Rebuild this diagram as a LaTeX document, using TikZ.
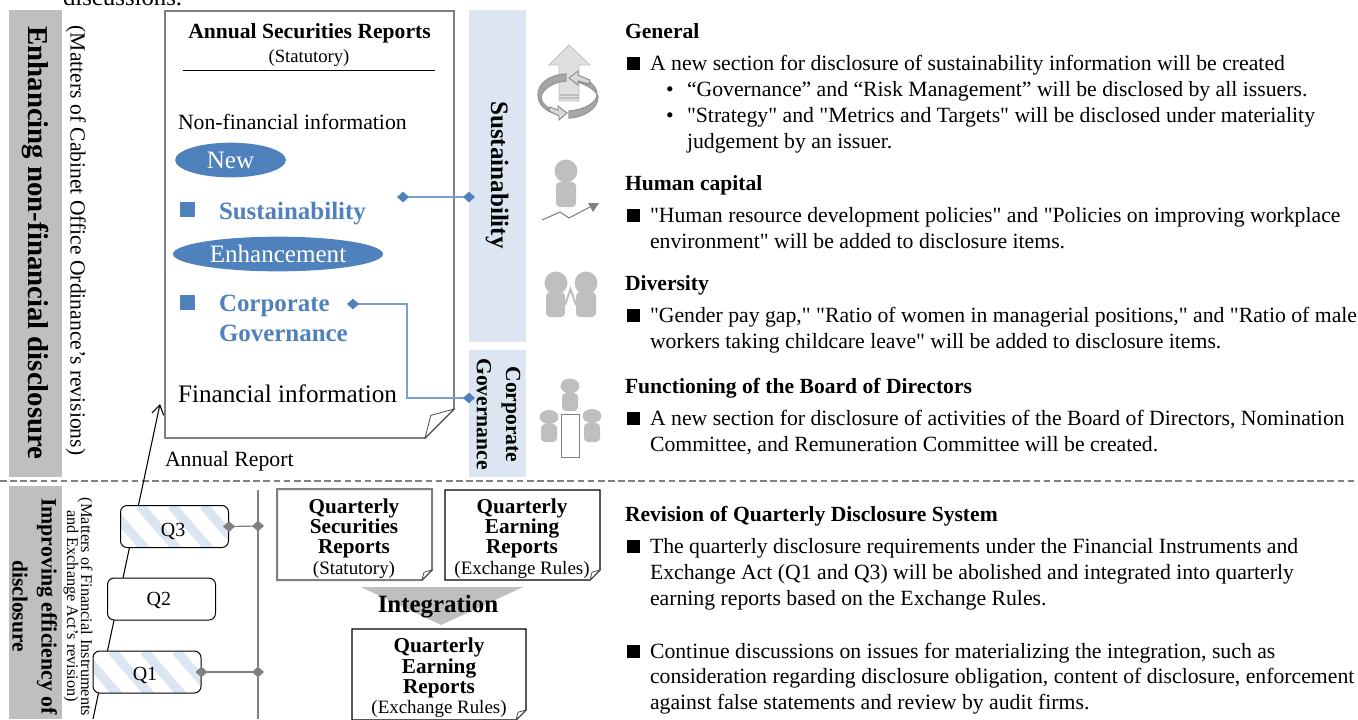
\documentclass[tikz,border=0pt]{standalone}
\usepackage{fontspec}
\setmainfont{Liberation Serif}[Ligatures=TeXOff]
\usetikzlibrary{arrows.meta,calc,shapes.geometric}
\definecolor{bandgray}{HTML}{BFBFBF}
\definecolor{lightblue}{HTML}{DCE6F2}
\definecolor{midblue}{HTML}{4F81BD}
\definecolor{icongray}{HTML}{BFBFBF}
\definecolor{papergray}{HTML}{7F7F7F}
\newcommand\fsz[1]{\fontsize{#1}{#1}\selectfont}
\newcommand\qlab[3]{\makebox[0pt]{\hspace*{#2}\raisebox{#3}[0pt][0pt]{#1}}}
\tikzset{
  x=0.75pt,y=-0.75pt,
  txt/.style={anchor=base west,inner sep=0pt,outer sep=0pt,font=\fsz{16.3}},
  head/.style={txt,font=\fsz{16.2}\bfseries},
  sq/.style={fill=black,inner sep=0pt,minimum width=9.6pt,minimum height=9.2pt,anchor=north west},
  sqblue/.style={fill=midblue,inner sep=0pt,minimum width=11.2pt,minimum height=11.2pt,anchor=north west},
  blob/.style={ellipse,fill=midblue,inner sep=0pt,text=white},
  bluetxt/.style={txt,text=midblue,font=\fsz{18.7}\bfseries},
  vert/.style={rotate=-90,inner sep=0pt,outer sep=0pt,anchor=center},
  qbox/.style={draw=black,line width=0.75pt,rounded corners=5pt,fill=white,minimum width=81pt,minimum height=31.5pt,inner sep=0pt,font=\fsz{15}},
  stripes/.style={path picture={
     \foreach \i in {-45,-13,...,115}
       \draw[lightblue,line width=7pt] ($(path picture bounding box.north west)+(\i,0)$) -- ++(40,46);
  }},
  papertxt/.style={align=center,inner sep=0pt,outer sep=0pt,font=\fsz{15.9}\bfseries},
  bluelink/.style={draw=midblue!75!white,line width=0.9pt,shorten <=-4.5pt,shorten >=-4.5pt,{Diamond[length=9pt,width=8pt,fill=midblue,color=midblue]}-{Diamond[length=9pt,width=8pt,fill=midblue,color=midblue]}},
  graylink/.style={draw=gray,line width=0.9pt,shorten <=-4.5pt,shorten >=-4.5pt,{Diamond[length=9pt,width=8pt,fill=gray]}-{Diamond[length=9pt,width=8pt,fill=gray]}},
  ico/.style={fill=icongray,draw=none},
}
\newcommand\paper[7]{% x1 y1 x2 y2 fold color width
  \draw[draw=#6,line width=#7,fill=white,line join=miter] (#1,#2) -- (#3,#2) -- (#3,{#4-#5}) -- ({#3-#5},#4) -- (#1,#4) -- cycle;
  \draw[draw=black!70,line width=0.6pt,fill=white] (#3,{#4-#5}) -- ({#3-0.8*#5},{#4-0.78*#5}) -- ({#3-#5},#4) -- cycle;
}
\begin{document}
\begin{tikzpicture}
\useasboundingbox (0,0) rectangle (1358,719);
\clip (0,0) rectangle (1358,719);
\node[txt,font=\fsz{18.6}] (disc) at (63,5) {discussions.};
% bands
\fill[bandgray] (9,10) rectangle (62,477);
\fill[bandgray] (9,486) rectangle (62,719);
\fill[lightblue] (469,10) rectangle (526,342);
\fill[lightblue] (469,350) rectangle (526,477);
\node[vert,font=\fsz{21.6}\bfseries] (enh) at (35,243) {Enhancing non-financial disclosure};
\node[vert,font=\fsz{16.2}] (mat1) at (76,240.5) {(Matters of Cabinet Office Ordinance’s revisions)};
\node[vert,font=\fsz{18.8}\bfseries] (sus) at (497,175) {Sustainability};
\node[vert,font=\fsz{16.2}\bfseries] (cg1) at (511,414.5) {Corporate};
\node[vert,font=\fsz{16.2}\bfseries] (cg2) at (484,414) {Governance};
\node[vert,font=\fsz{16.4}\bfseries] (imp1) at (47,606.5) {Improving efficiency of};
\node[vert,font=\fsz{16.2}\bfseries] (imp2) at (20,606) {disclosure};
\node[vert,font=\fsz{12.2}] (fin1) at (85,607) {(Matters of Financial Instruments};
\node[vert,font=\fsz{12.2}] (fin2) at (71,606) {and Exchange Act’s revision)};
% dashed separator
\coordinate (dl) at (0,481); \coordinate (dr) at (1358,481);
\draw[gray,line width=0.8pt,dash pattern=on 5pt off 2.6pt] (dl) -- (dr);
% annual report paper
\paper{165}{11}{454}{438}{29}{papergray}{1.4pt}
\node[inner sep=0pt,font=\fsz{16.2}\bfseries] (asr) at (309.5,33.5) {Annual Securities Reports};
\node[inner sep=0pt,font=\fsz{14}] (stat) at (309,58) {(Statutory)};
\coordinate (rl) at (183,70); \coordinate (rr) at (435,70);
\draw[black,line width=0.75pt] (rl) -- (rr);
\node[txt,font=\fsz{16.3}] (nfi) at (178,129) {Non-financial information};
\node[blob,minimum width=83pt,minimum height=26pt,font=\fsz{18.8}] (new) at (230.5,160) {New};
\node[sqblue] (s1) at (180,202) {};
\node[bluetxt] (sust) at (219,219) {Sustainability};
\node[blob,minimum width=157.5pt,minimum height=26pt,font=\fsz{18.8}] (enhn) at (278,254) {Enhancement};
\node[sqblue] (s2) at (180,295) {};
\node[bluetxt] (corp) at (219,311) {Corporate};
\node[bluetxt] (gov) at (219,341) {Governance};
\node[txt,font=\fsz{18.9}] (fini) at (178,402) {Financial information};
\node[txt,font=\fsz{16.3}] (ar) at (165,466) {Annual Report};
% links
\coordinate (a1) at (403,197); \coordinate (a2) at (469,197);
\coordinate (b1) at (353,304); \coordinate (b2) at (469,398); \coordinate (bm) at (407,304);
\draw[bluelink] (a1) -- (a2);
\draw[bluelink] (b1) -- (bm) |- (b2);
% timeline
\coordinate (t0) at (93,719); \coordinate (t1) at (160,404);
\draw[black,line width=0.8pt,-{Straight Barb[length=7pt,width=9pt]}] (t0) -- (t1);
\coordinate (vt) at (258,490); \coordinate (vb) at (258,719);
\draw[gray,line width=0.9pt] (vt) -- (vb);
\node[qbox,stripes] (q3) at (174.5,526.5) {\qlab{Q3}{-2pt}{-7.5pt}};
\node[qbox] (q2) at (161.5,599) {\qlab{Q2}{-4pt}{-4.9pt}};
\node[qbox,stripes] (q1) at (147,672) {\qlab{Q1}{-3pt}{-6.4pt}};
\coordinate (j3) at (258,526); \coordinate (j1) at (258,672);
\draw[graylink] (q3.east) -- (j3);
\draw[graylink] (q1.east) -- (j1);
% quarterly papers
\paper{277}{489}{432}{580}{10}{papergray}{1.5pt}
\node[papertxt] (qsr) at (354,538.3) {Quarterly\\[-.6pt]Securities\\[-.6pt]Reports\\[-.6pt]{\fsz{14.2}\mdseries (Statutory)}};
\paper{445}{490}{600}{580}{10}{black}{0.8pt}
\node[papertxt] (qer) at (522,538.3) {Quarterly\\[-.6pt]Earning\\[-.6pt]Reports\\[-.6pt]{\fsz{14.2}\mdseries (Exchange Rules)}};
\fill[bandgray] (361,587) -- (523,587) -- (441,625) -- cycle;
\node[inner sep=0pt,font=\fsz{18.7}\bfseries] (integ) at (438,606.5) {Integration};
\paper{352}{629}{526}{720}{10}{black}{0.8pt}
\node[papertxt] (qer2) at (439,678) {Quarterly\\[-.6pt]Earning\\[-.6pt]Reports\\[-.6pt]{\fsz{14.2}\mdseries (Exchange Rules)}};
% icon 1
\fill[icongray!50!white,draw=icongray,line width=0.6pt] (569,45) -- (590,65) -- (579,65) -- (579,101) -- (559,101) -- (559,65) -- (549,65) -- cycle;
\draw[icongray,line width=0.8pt] (559,95) -- (579,95) (559,98) -- (579,98);
\draw[gray!80!white,line width=1pt,fill=gray!70!white] (566,74) .. controls (548,75) and (538,84) .. (538,95) .. controls (538,108) and (552,115) .. (564,114) -- (566,113) .. controls (552,112) and (541,105) .. (541,97) .. controls (542,90) and (552,82) .. (566,81) -- cycle;
\fill[icongray!60!white,draw=gray,line width=0.6pt] (558,106) -- (567,113) -- (559,120) -- (559,116) -- (549,111) -- (550,107) -- (558,110) -- cycle;
\draw[gray!80!white,line width=1pt,fill=gray!70!white] (569,111) .. controls (585,110) and (597,102) .. (597,95) .. controls (597,85) and (587,79) .. (578,76) -- (578,82) .. controls (588,85) and (598,92) .. (598,97) .. controls (598,108) and (585,117) .. (569,118) -- cycle;
\fill[icongray!60!white,draw=gray,line width=0.6pt] (578,71) -- (569,78) -- (578,85) -- (578,81) -- (589,84) -- (590,80) -- (578,75) -- cycle;
% icon 2
\fill[ico] (566,171) circle (8.6pt);
\fill[ico,rounded corners=3pt] (556,182) rectangle (576,207);
\draw[gray,line width=0.8pt] (542,220) -- (560,212) -- (569,218) -- (590,207);
\fill[gray] (588,203) -- (599,203) -- (593,212) -- cycle;
% icon 3
\fill[ico] (556,283) circle (8.6pt);
\fill[ico] (586,283) circle (8.6pt);
\fill[ico,rounded corners=3pt] (546,292) rectangle (565,317);
\fill[ico,rounded corners=3pt] (576,292) rectangle (596,317);
\draw[icongray,line width=1.5pt,line join=miter] (565,305) -- (570.5,289) -- (576,305);
% icon 4
\fill[ico] (570,386) ellipse (7.1pt and 5.6pt);
\fill[ico,rounded corners=3pt] (562,393) rectangle (578,411);
\fill[ico] (549,417) ellipse (7.1pt and 5.3pt);
\fill[ico,rounded corners=3pt] (541,424) rectangle (557,442);
\fill[ico] (592,416) ellipse (7.1pt and 5.3pt);
\fill[ico,rounded corners=3pt] (584,423) rectangle (600,442);
\draw[gray,line width=0.6pt,fill=white] (561,414) rectangle (579,457);
% right column
\node[head] (h1) at (625,38) {General};
\node[sq] (b11) at (627,57) {};
\node[txt] (l1) at (650,70) {A new section for disclosure of sustainability information will be created};
\node[txt] (d1) at (666,96) {•};
\node[txt] (l2) at (687,96) {“Governance” and “Risk Management” will be disclosed by all issuers.};
\node[txt] (d2) at (666,122) {•};
\node[txt] (l3) at (687,122) {"Strategy" and "Metrics and Targets" will be disclosed under materiality};
\node[txt] (l4) at (687,148) {judgement by an issuer.};
\node[head] (h2) at (625,190) {Human capital};
\node[sq] (b21) at (627,209) {};
\node[txt] (l5) at (650,222) {"Human resource development policies" and "Policies on improving workplace};
\node[txt] (l6) at (650,248) {environment" will be added to disclosure items.};
\node[head] (h3) at (625,290) {Diversity};
\node[sq] (b31) at (627,309) {};
\node[txt] (l7) at (650,322) {"Gender pay gap," "Ratio of women in managerial positions," and "Ratio of male};
\node[txt] (l8) at (650,348) {workers taking childcare leave" will be added to disclosure items.};
\node[head] (h4) at (625,393) {Functioning of the Board of Directors};
\node[sq] (b41) at (627,412) {};
\node[txt] (l9) at (650,425) {A new section for disclosure of activities of the Board of Directors, Nomination};
\node[txt] (l10) at (650,451) {Committee, and Remuneration Committee will be created.};
\node[head] (h5) at (625,521) {Revision of Quarterly Disclosure System};
\node[sq] (b51) at (627,540) {};
\node[txt] (l11) at (650,553) {The quarterly disclosure requirements under the Financial Instruments and};
\node[txt] (l12) at (650,579) {Exchange Act (Q1 and Q3) will be abolished and integrated into quarterly};
\node[txt] (l13) at (650,605) {earning reports based on the Exchange Rules.};
\node[sq] (b52) at (627,645) {};
\node[txt] (l14) at (650,658) {Continue discussions on issues for materializing the integration, such as};
\node[txt] (l15) at (650,683) {consideration regarding disclosure obligation, content of disclosure, enforcement};
\node[txt] (l16) at (650,709) {against false statements and review by audit firms.};
\end{tikzpicture}
\end{document}
